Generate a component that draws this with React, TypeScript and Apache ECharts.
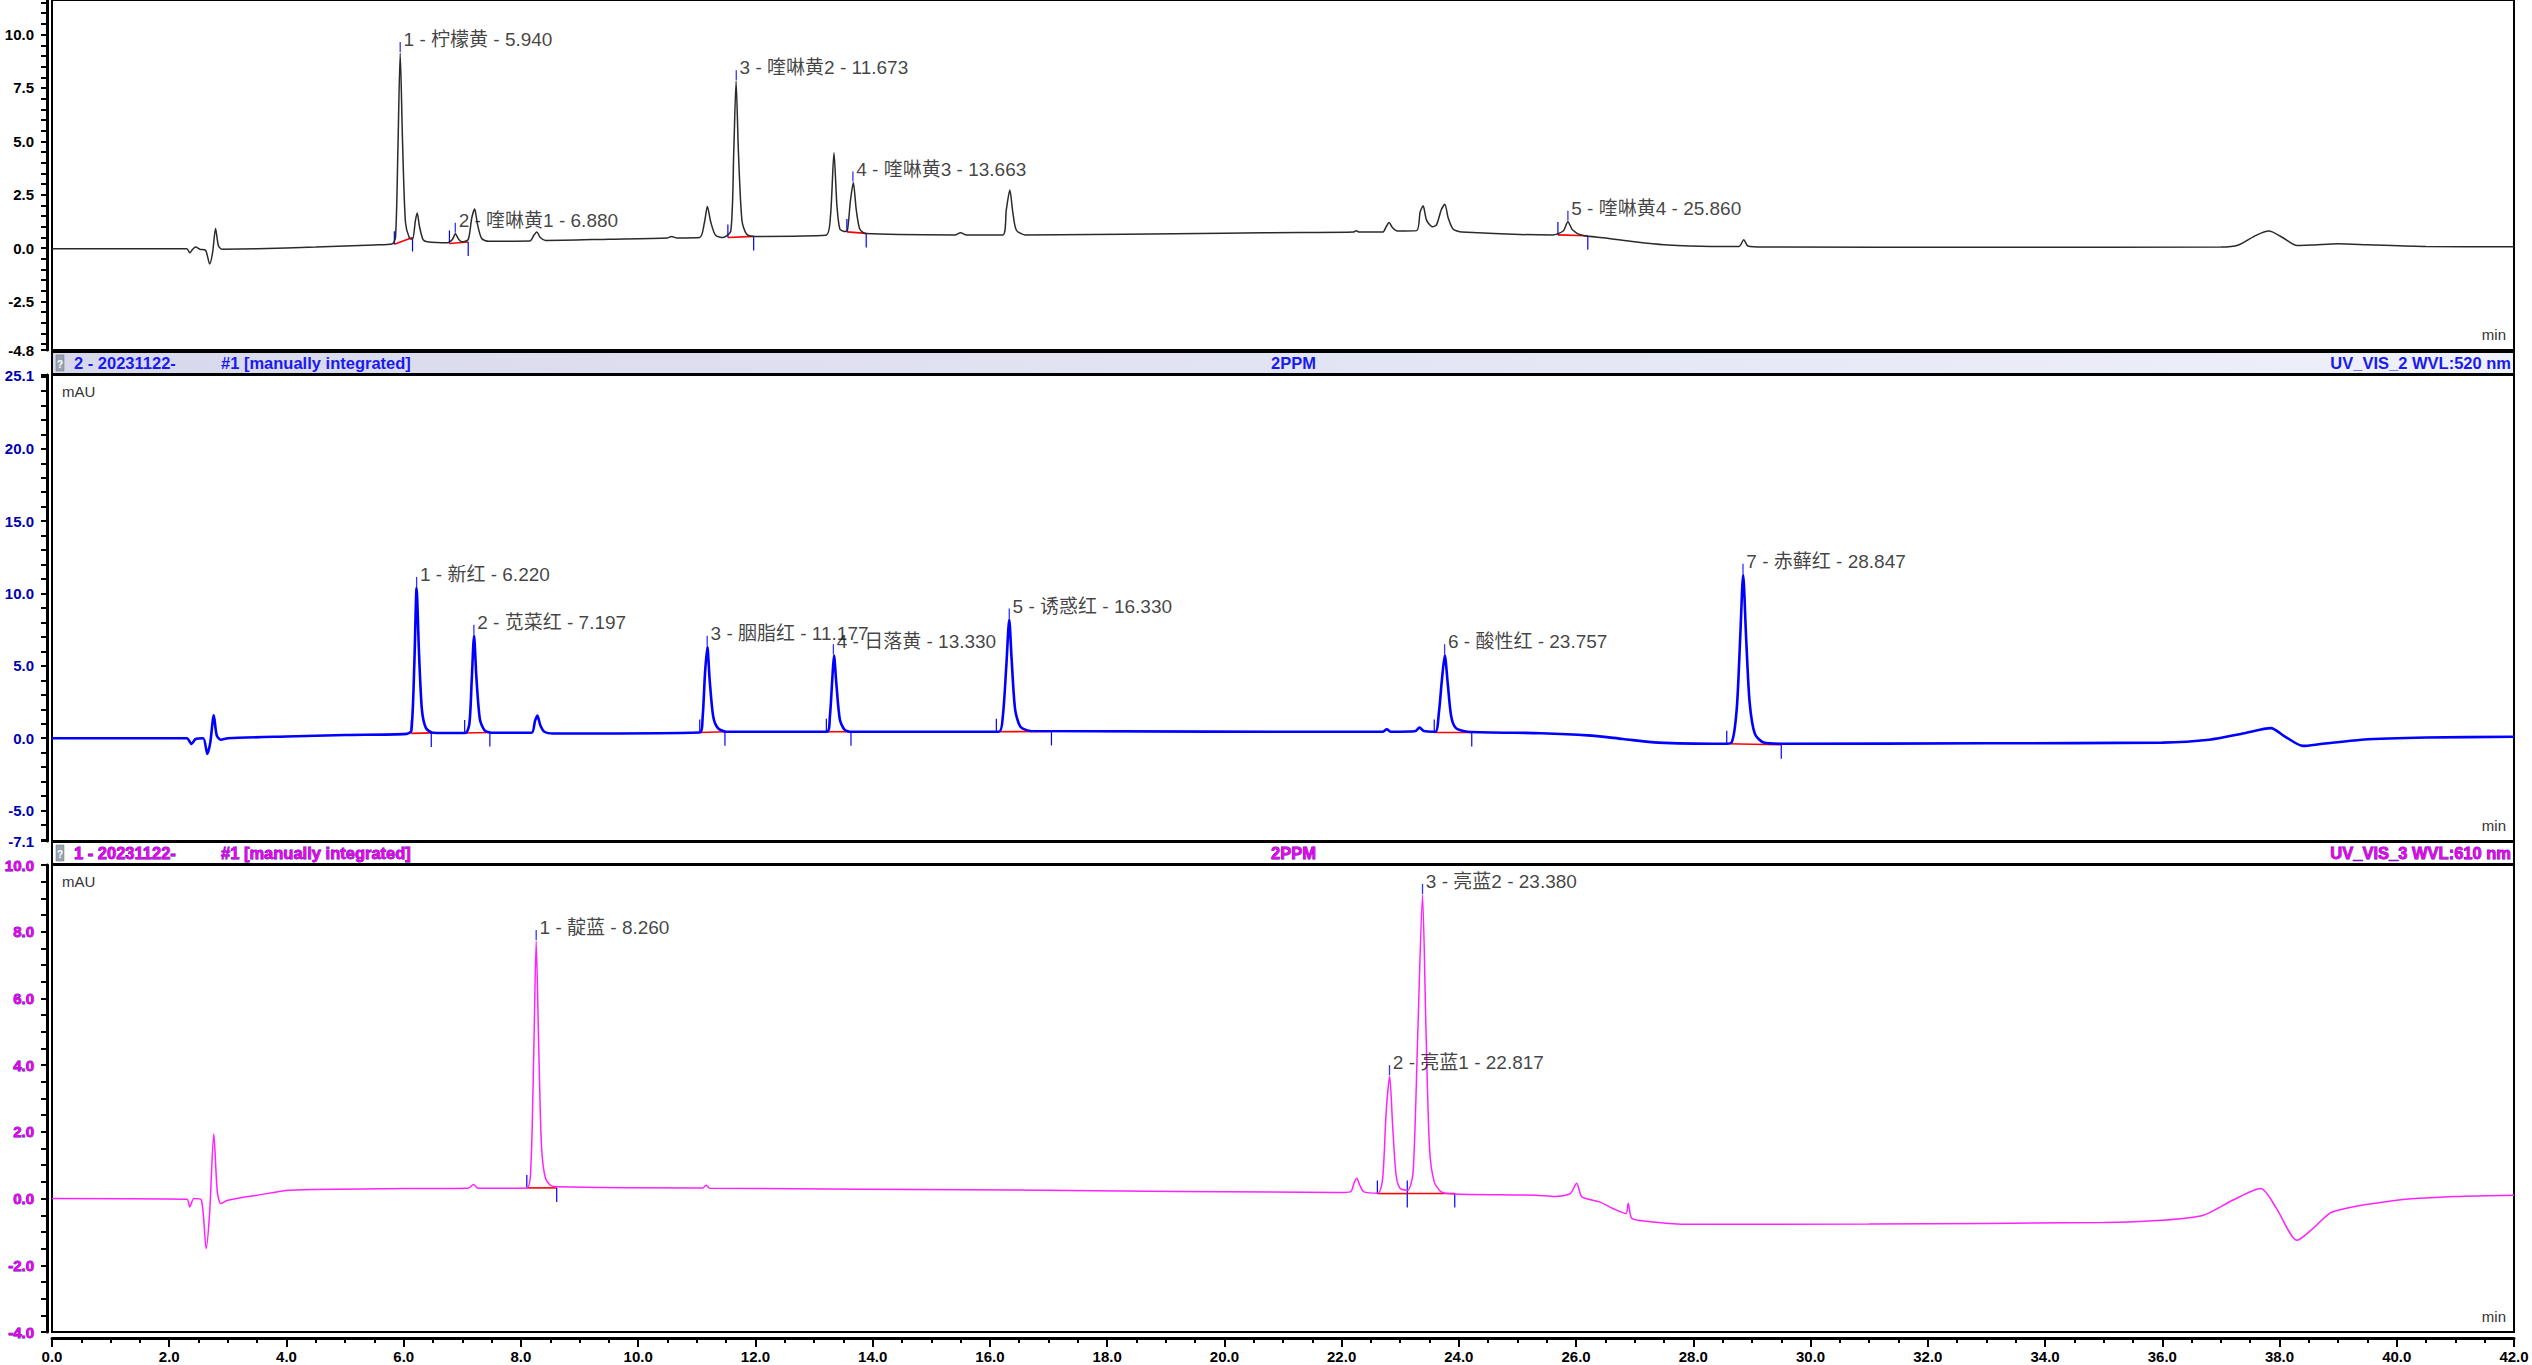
import React, { useEffect, useRef } from "react";
import * as echarts from "echarts";

// ---------- data (time in min, signal in mAU) ----------
const trace1: number[][] = [
  [0, -0.03], [1.5, -0.03], [2.3, -0.03], [2.35, -0.22], [2.4, -0.05], [2.45, 0.05], [2.52, -0.05], [2.62, -0.1],
  [2.69, -0.74], [2.74, -0.2], [2.79, 0.92], [2.84, 0.1], [2.9, -0.05], [3.5, -0.03], [4.5, 0.05], [5.5, 0.15], [5.8, 0.19],
  [5.86, 0.5], [5.9, 4.5], [5.94, 9.14], [5.98, 5.0], [6.03, 1.2], [6.1, 0.45], [6.15, 0.42], [6.2, 1.3], [6.23, 1.65],
  [6.27, 1.0], [6.33, 0.4], [6.4, 0.3], [6.75, 0.25], [6.83, 0.4], [6.88, 0.67], [6.94, 0.4], [6.99, 0.3], [7.1, 0.4],
  [7.16, 1.4], [7.21, 1.83], [7.26, 1.1], [7.33, 0.45], [7.45, 0.32], [8.15, 0.33], [8.22, 0.6], [8.27, 0.76], [8.33, 0.5],
  [8.42, 0.36], [9.5, 0.42], [10.5, 0.48], [10.57, 0.55], [10.65, 0.48], [11.05, 0.5], [11.13, 1.2], [11.18, 1.95],
  [11.24, 1.2], [11.32, 0.6], [11.45, 0.5], [11.58, 0.8], [11.63, 4.5], [11.67, 7.82], [11.71, 4.5], [11.77, 1.3],
  [11.85, 0.65], [12.0, 0.55], [13.2, 0.6], [13.28, 1.5], [13.34, 4.47], [13.39, 2.0], [13.44, 0.9], [13.52, 0.78],
  [13.57, 0.85], [13.62, 2.2], [13.67, 3.07], [13.72, 1.8], [13.78, 0.9], [13.88, 0.68], [15.4, 0.62], [15.5, 0.72],
  [15.6, 0.62], [16.22, 0.62], [16.28, 1.8], [16.34, 2.72], [16.39, 1.7], [16.45, 0.85], [16.6, 0.62], [20.0, 0.7],
  [21.3, 0.73], [22.2, 0.75], [22.25, 0.82], [22.3, 0.75], [22.7, 0.75], [22.76, 1.0], [22.81, 1.2], [22.87, 0.95],
  [22.95, 0.8], [23.28, 0.82], [23.34, 1.7], [23.39, 1.98], [23.45, 1.3], [23.55, 1.0], [23.62, 1.1], [23.7, 1.8],
  [23.76, 2.05], [23.82, 1.4], [23.9, 0.9], [24.05, 0.75], [25.6, 0.62], [25.78, 0.8], [25.86, 1.24], [25.94, 0.85],
  [26.1, 0.6], [26.5, 0.48], [27.0, 0.3], [27.5, 0.16], [28.3, 0.08], [28.78, 0.08], [28.86, 0.39], [28.93, 0.1],
  [29.2, 0.05], [33.0, 0.04], [37.0, 0.05], [37.3, 0.15], [37.6, 0.6], [37.82, 0.8], [38.05, 0.5], [38.3, 0.12],
  [38.6, 0.15], [39.0, 0.2], [39.5, 0.16], [40.5, 0.08], [42, 0.06],
];

const trace2: number[][] = [
  [0, 0.0], [2.3, 0.0], [2.38, -0.4], [2.45, -0.05], [2.58, 0.0], [2.65, -1.09], [2.7, -0.3], [2.76, 1.58], [2.81, 0.2],
  [2.88, -0.1], [3.0, 0.0], [4.0, 0.12], [5.0, 0.22], [6.05, 0.3], [6.13, 0.5], [6.18, 5.0], [6.22, 10.39], [6.26, 6.0],
  [6.31, 2.0], [6.38, 0.7], [6.5, 0.38], [7.05, 0.36], [7.12, 1.0], [7.16, 4.0], [7.2, 7.08], [7.24, 4.2], [7.3, 1.3],
  [7.38, 0.55], [7.5, 0.38], [8.18, 0.38], [8.24, 1.2], [8.28, 1.56], [8.33, 0.9], [8.4, 0.45], [8.55, 0.33], [11.05, 0.4],
  [11.1, 1.5], [11.14, 4.5], [11.18, 6.32], [11.22, 4.0], [11.28, 1.5], [11.36, 0.7], [11.5, 0.45], [13.22, 0.45],
  [13.27, 1.5], [13.31, 4.0], [13.34, 5.74], [13.38, 3.8], [13.44, 1.3], [13.52, 0.6], [13.65, 0.45], [16.15, 0.45],
  [16.22, 1.5], [16.28, 5.0], [16.33, 8.2], [16.37, 5.5], [16.43, 2.0], [16.52, 0.8], [16.7, 0.5], [22.7, 0.45],
  [22.77, 0.62], [22.84, 0.45], [23.25, 0.48], [23.33, 0.74], [23.4, 0.5], [23.6, 0.45], [23.66, 1.8], [23.71, 4.0],
  [23.76, 5.74], [23.81, 3.8], [23.87, 1.5], [23.95, 0.7], [24.15, 0.45], [25.4, 0.35], [26.2, 0.2], [26.8, -0.05],
  [27.4, -0.3], [28.5, -0.38], [28.65, -0.3], [28.74, 2.0], [28.8, 7.0], [28.85, 11.3], [28.9, 7.0], [28.96, 2.5],
  [29.05, 0.3], [29.2, -0.3], [29.5, -0.38], [33.0, -0.35], [36.0, -0.3], [36.8, -0.1], [37.4, 0.35], [37.85, 0.7],
  [38.1, 0.1], [38.4, -0.53], [38.7, -0.4], [39.4, -0.1], [40.5, 0.05], [42, 0.1],
];

const trace3: number[][] = [
  [0, 0.0], [2.3, -0.02], [2.35, -0.25], [2.42, 0.0], [2.55, -0.05], [2.63, -1.5], [2.69, -0.4], [2.76, 1.94],
  [2.82, 0.2], [2.88, -0.15], [3.0, -0.05], [3.5, 0.1], [4.06, 0.25], [6.0, 0.3], [7.1, 0.31], [7.19, 0.42], [7.27, 0.31],
  [8.1, 0.32], [8.17, 1.0], [8.22, 4.5], [8.26, 7.72], [8.3, 4.8], [8.35, 1.6], [8.42, 0.6], [8.55, 0.36], [11.1, 0.32],
  [11.16, 0.4], [11.22, 0.31], [16.44, 0.26], [21.93, 0.18], [22.15, 0.2], [22.22, 0.5], [22.26, 0.61], [22.31, 0.4],
  [22.38, 0.2], [22.62, 0.16], [22.7, 0.6], [22.76, 2.6], [22.82, 3.67], [22.87, 2.2], [22.93, 0.7], [23.0, 0.3],
  [23.13, 0.25], [23.22, 0.8], [23.3, 5.0], [23.38, 9.1], [23.44, 5.0], [23.5, 1.5], [23.58, 0.5], [23.7, 0.2],
  [23.9, 0.14], [25.3, 0.1], [25.65, 0.06], [25.9, 0.15], [26.01, 0.46], [26.1, 0.05], [26.4, -0.1], [26.68, -0.34],
  [26.85, -0.45], [26.89, -0.14], [26.95, -0.59], [27.2, -0.68], [27.84, -0.77], [31, -0.76], [35.0, -0.72],
  [36.0, -0.65], [36.7, -0.5], [37.2, -0.05], [37.68, 0.3], [37.95, -0.3], [38.3, -1.25], [38.6, -0.85], [38.9, -0.4],
  [40.0, -0.05], [41.0, 0.06], [42, 0.1],
];

// peak annotations: [retention time, apex height, label]
const peaks1: [number, number, string][] = [
  [5.94, 9.14, "1 - 柠檬黄 - 5.940"],
  [6.88, 0.67, "2 - 喹啉黄1 - 6.880"],
  [11.673, 7.82, "3 - 喹啉黄2 - 11.673"],
  [13.663, 3.07, "4 - 喹啉黄3 - 13.663"],
  [25.86, 1.24, "5 - 喹啉黄4 - 25.860"],
];
const peaks2: [number, number, string][] = [
  [6.22, 10.39, "1 - 新红 - 6.220"],
  [7.197, 7.08, "2 - 苋菜红 - 7.197"],
  [11.177, 6.32, "3 - 胭脂红 - 11.177"],
  [13.33, 5.74, "4 - 日落黄 - 13.330"],
  [16.33, 8.2, "5 - 诱惑红 - 16.330"],
  [23.757, 5.74, "6 - 酸性红 - 23.757"],
  [28.847, 11.3, "7 - 赤藓红 - 28.847"],
];
const peaks3: [number, number, string][] = [
  [8.26, 7.72, "1 - 靛蓝 - 8.260"],
  [22.817, 3.67, "2 - 亮蓝1 - 22.817"],
  [23.38, 9.1, "3 - 亮蓝2 - 23.380"],
];

// integration baselines: [t start, v start, t end, v end]
const integ1: number[][] = [
  [5.84, 0.18, 6.15, 0.5], [6.78, 0.22, 7.1, 0.29], [11.53, 0.5, 11.97, 0.55], [13.56, 0.76, 13.89, 0.69], [25.69, 0.62, 26.2, 0.58],
];
const integ2: number[][] = [
  [6.13, 0.34, 6.47, 0.37], [7.04, 0.36, 7.47, 0.4], [11.05, 0.4, 11.48, 0.45], [13.21, 0.45, 13.63, 0.45],
  [16.11, 0.45, 17.05, 0.47], [23.58, 0.4, 24.22, 0.4], [28.57, -0.38, 29.5, -0.45],
];
const integ3: number[][] = [
  [8.1, 0.32, 8.61, 0.32], [22.61, 0.15, 23.12, 0.15], [23.12, 0.15, 23.93, 0.15],
];

// axes
const yRange1 = [-4.77, 11.62];
const yRange2 = [-7.1, 25.1];
const yRange3 = [-4.0, 10.0];
const yLabels1 = [-4.77, -2.5, 0, 2.5, 5, 7.5, 10];
const yLabels2 = [-7.1, -5, 0, 5, 10, 15, 20, 25.1];
const yLabels3 = [-4, -2, 0, 2, 4, 6, 8, 10];
const yTickStep = [0.5, 1, 0.5];
const xRange = [0, 42];
const xInterval = 2;

const headers = [
  { sample: "2 - 20231122-", note: "#1 [manually integrated]", name: "2PPM", channel: "UV_VIS_2 WVL:520 nm" },
  { sample: "1 - 20231122-", note: "#1 [manually integrated]", name: "2PPM", channel: "UV_VIS_3 WVL:610 nm" },
];

// ---------- layout ----------
const W = 2532;
const H = 1365;
const LEFT = 52;
const RIGHT = 18;
const grids = [
  { top: -2, height: 352 },
  { top: 375, height: 466 },
  { top: 865, height: 467 },
];
const AXIS_FONT = "'Liberation Sans', Arial, sans-serif";
const TEXT_FONT = "'Liberation Sans', Arial, 'Noto Sans CJK SC', sans-serif";

function ticksFor(range: number[], step: number, labels: number[]) {
  const out: number[] = [];
  const start = Math.ceil(range[0] / step) * step;
  for (let v = start; v <= range[1] + 1e-9; v += step) out.push(Math.round(v * 100) / 100);
  labels.forEach((l) => { if (!out.includes(l)) out.push(l); });
  return out;
}

export default function App() {
  const ref = useRef<HTMLDivElement>(null);
  useEffect(() => {
    if (!ref.current) return;
    const chart = echarts.init(ref.current, undefined, { renderer: "svg" });

    const traces = [trace1, trace2, trace3];
    const peaks = [peaks1, peaks2, peaks3];
    const integs = [integ1, integ2, integ3];
    const ranges = [yRange1, yRange2, yRange3];
    const ylabels = [yLabels1, yLabels2, yLabels3];
    const lineColors = ["#2a2a2a", "#0000ff", "#ff22ff"];
    const lineWidths = [1.5, 2.6, 1.5];
    const labelStyles = [
      { color: "#000000" },
      { color: "#0000b0" },
      { color: "#ee00ee", textBorderColor: "#3a10a0", textBorderWidth: 0.8 },
    ];

    const series: any[] = [];
    traces.forEach((tr, i) => {
      series.push({
        type: "custom",
        xAxisIndex: i,
        yAxisIndex: i,
        silent: true,
        z: 1,
        clip: false,
        encode: { x: [0, 2], y: [1, 3] },
        data: integs[i],
        renderItem: (params: any, api: any) => {
          const p1 = api.coord([api.value(0), api.value(1)]);
          const p2 = api.coord([api.value(2), api.value(3)]);
          return {
            type: "group",
            children: [
              { type: "line", shape: { x1: p1[0], y1: p1[1], x2: p2[0], y2: p2[1] }, style: { stroke: "#ff0000", lineWidth: 1.6 } },
              { type: "line", shape: { x1: p1[0], y1: p1[1] - 13, x2: p1[0], y2: p1[1] }, style: { stroke: "#0000ff", lineWidth: 1.2 } },
              { type: "line", shape: { x1: p2[0], y1: p2[1], x2: p2[0], y2: p2[1] + 14 }, style: { stroke: "#0000ff", lineWidth: 1.2 } },
            ],
          };
        },
      });
      series.push({
        type: "line",
        xAxisIndex: i,
        yAxisIndex: i,
        data: tr,
        symbol: "none",
        showSymbol: false,
        smooth: 0.25,
        silent: true,
        z: 2,
        lineStyle: { color: lineColors[i], width: lineWidths[i] },
      });
      series.push({
        type: "scatter",
        xAxisIndex: i,
        yAxisIndex: i,
        silent: true,
        z: 3,
        symbol: "rect",
        symbolSize: [1.3, 10],
        symbolOffset: [0, -6],
        itemStyle: { color: "#0000ff" },
        data: peaks[i].map((p) => ({ value: [p[0], p[1]], name: p[2] })),
        label: {
          show: true,
          formatter: "{b}",
          position: [4, -2.5],
          align: "left",
          verticalAlign: "middle",
          fontSize: 19,
          fontFamily: TEXT_FONT,
          color: "#111111",
        },
      });
    });

    const headerGraphics: any[] = [];
    const headerTops = [352, 842];
    headerTops.forEach((top, k) => {
      const isBlue = k === 0;
      const fill = isBlue ? "#1a1aee" : "#ee00ee";
      const textExtra = isBlue ? {} : { stroke: "#3a10a0", lineWidth: 0.8 };
      const cy = top + 11;
      const hf = `bold 16.5px ${AXIS_FONT}`;
      headerGraphics.push(
        {
          type: "rect",
          shape: { x: LEFT, y: top, width: W - LEFT - RIGHT, height: 22 },
          style: {
            fill: isBlue
              ? new echarts.graphic.LinearGradient(0, 0, 1, 0, [
                  { offset: 0, color: "#d8d8ec" },
                  { offset: 1, color: "#eef0fa" },
                ])
              : "#ffffff",
            stroke: "#000",
            lineWidth: 2,
          },
        },
        { type: "rect", shape: { x: 56, y: top + 3, width: 8, height: 16 }, style: { fill: "#9aa4b0", stroke: "#6a7480", lineWidth: 0.5 } },
        { type: "text", x: 60, y: cy + 1, style: { text: "?", fill: "#ffffff", font: "bold 10px Arial", align: "center", verticalAlign: "middle" } },
        { type: "text", x: 74, y: cy, style: { text: headers[k].sample, fill, font: hf, verticalAlign: "middle", ...textExtra } },
        { type: "text", x: 221, y: cy, style: { text: headers[k].note, fill, font: hf, verticalAlign: "middle", ...textExtra } },
        { type: "text", x: 1271, y: cy, style: { text: headers[k].name, fill, font: hf, verticalAlign: "middle", ...textExtra } },
        { type: "text", x: W - RIGHT - 3, y: cy, style: { text: headers[k].channel, fill, font: hf, align: "right", verticalAlign: "middle", ...textExtra } },
      );
    });

    const unitGraphics: any[] = [];
    grids.forEach((g, i) => {
      if (i > 0) {
        unitGraphics.push({ type: "text", x: 62, y: g.top + 16, style: { text: "mAU", fill: "#333", font: `15px ${TEXT_FONT}`, verticalAlign: "middle" } });
      }
      unitGraphics.push({
        type: "text",
        x: W - RIGHT - 8,
        y: g.top + g.height - 16,
        style: { text: "min", fill: "#333", font: `15px ${TEXT_FONT}`, align: "right", verticalAlign: "middle" },
      });
    });

    const option: any = {
      animation: false,
      backgroundColor: "#ffffff",
      grid: grids.map((g) => ({
        left: LEFT,
        right: RIGHT,
        top: g.top,
        height: g.height,
        show: true,
        borderColor: "#000000",
        borderWidth: 2,
        backgroundColor: "transparent",
        containLabel: false,
      })),
      xAxis: grids.map((g, i) => ({
        type: "value",
        gridIndex: i,
        min: xRange[0],
        max: xRange[1],
        interval: xInterval,
        show: i === 2,
        offset: 6,
        axisLine: { show: true, onZero: false, lineStyle: { color: "#000", width: 3 } },
        axisTick: { show: true, length: 9, lineStyle: { color: "#000", width: 2 } },
        minorTick: { show: true, splitNumber: 4, length: 5, lineStyle: { color: "#000", width: 2 } },
        splitLine: { show: false },
        minorSplitLine: { show: false },
        axisLabel: {
          margin: 11,
          color: "#000",
          fontWeight: "bold",
          fontSize: 15,
          fontFamily: AXIS_FONT,
          formatter: (v: number) => v.toFixed(1),
        },
      })),
      yAxis: grids.map((g, i) => ({
        type: "value",
        gridIndex: i,
        min: ranges[i][0],
        max: ranges[i][1],
        offset: 5,
        axisLine: { show: true, onZero: false, lineStyle: { color: "#000", width: 3 } },
        axisTick: {
          show: true,
          length: 6,
          lineStyle: { color: "#000", width: 2 },
          customValues: ticksFor(ranges[i], yTickStep[i], ylabels[i]),
        },
        splitLine: { show: false },
        axisLabel: {
          margin: 13,
          fontWeight: "bold",
          fontSize: 15,
          fontFamily: AXIS_FONT,
          customValues: ylabels[i],
          formatter: (v: number) => v.toFixed(1),
          ...labelStyles[i],
        },
      })),
      graphic: [...headerGraphics, ...unitGraphics],
      series,
    };

    chart.setOption(option);
    return () => chart.dispose();
  }, []);

  return <div ref={ref} style={{ position: "absolute", left: 0, top: 0, width: W, height: H, background: "#fff" }} />;
}
